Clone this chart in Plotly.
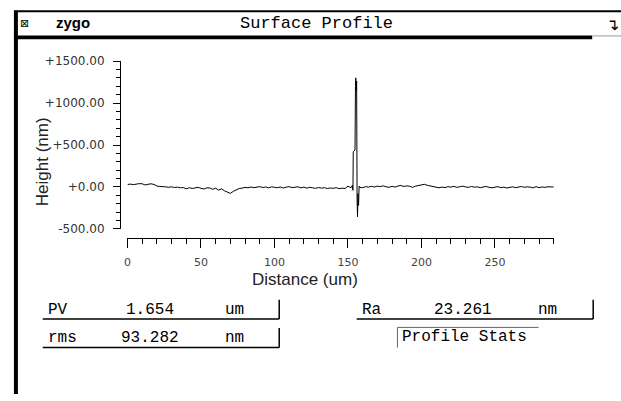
import plotly.graph_objects as go

# ---------------- data ----------------
x_before = [0, 2, 4, 6, 8, 10, 12, 14, 16, 18, 20, 22, 24, 26, 28, 30, 32, 34, 36, 38, 40,
            42, 44, 46, 48, 50, 52, 54, 56, 58, 60, 62, 64, 66, 68, 70, 72, 74, 76, 78, 80,
            82, 84, 86, 88, 90, 92, 94, 96, 98, 100, 102, 104, 106, 108, 110, 112, 114, 116, 118, 120,
            122, 124, 126, 128, 130, 132, 134, 136, 138, 140, 142, 144, 146, 148, 150, 152]
h_before = [30, 34, 28, 36, 40, 38, 24, 32, 38, 30, 12, 6, 8, 2, -4, 2, -6, -2, -10, -6, -22,
            -8, -18, -10, -4, -16, -24, -10, -12, -28, -14, -38, -22, -46, -58, -76, -52, -30, -18, -14, -4,
            -10, 0, -8, -2, 4, -6, 0, -10, 2, -4, -8, 0, -12, -2, 4, -8, -2, 2, -10, -2,
            -14, -4, -10, -16, -6, -14, -8, -18, -12, -16, -8, -20, -14, -18, 10, -10]

x_spike = [153.0, 153.4, 153.6, 154.2, 154.8, 155.1, 155.3, 155.6, 155.9, 156.2, 156.5, 156.8, 157.2, 157.6, 158.0]
h_spike = [20, -40, 420, 430, 440, 1200, 1300, 1150, 1260, -150, -354, -80, -220, 10, -5]

x_after = [160, 162, 164, 166, 168, 170, 172, 174, 176, 178, 180, 182, 184, 186, 188, 190,
           192, 194, 196, 198, 200, 202, 204, 206, 208, 210, 212, 214, 216, 218, 220, 222,
           224, 226, 228, 230, 232, 234, 236, 238, 240, 242, 244, 246, 248, 250, 252, 254,
           256, 258, 260, 262, 264, 266, 268, 270, 272, 274, 276, 278, 280, 282, 284, 286, 288, 290]
h_after = [-8, 4, -2, 8, 0, 10, 4, 14, 2, -4, 8, -2, 12, 18, 6, 14,
           8, -4, 10, 18, 24, 32, 20, 14, 4, -6, -10, 0, -8, 4, -2, 8,
           -4, 2, 10, 0, -4, 6, -2, 2, -8, 0, 6, -4, -10, -2, 4, -8,
           -2, -12, -4, 2, -8, 0, 6, -4, 2, -2, -10, 4, -8, 0, -4, 2, -2, 0]

x_ticks = [0, 50, 100, 150, 200, 250]
y_ticks = [-500, 0, 500, 1000, 1500]
y_ticktext = ["-500.00", "+0.00", "+500.00", "+1000.00", "+1500.00"]

stats_left = [("PV", "1.654", "um"), ("rms", "93.282", "nm")]
stats_right = [("Ra", "23.261", "nm")]
panel_title = "Surface Profile"
stats_caption = "Profile Stats"

x_um = x_before + x_spike + x_after
h_nm = h_before + h_spike + h_after

W, H = 621, 401


def px(x):
    return x / W


def py(y):
    return 1 - y / H


fig = go.Figure()
fig.add_trace(go.Scatter(x=x_um, y=h_nm, mode="lines",
                         line=dict(color="black", width=1), hoverinfo="skip"))

tickfont = dict(family="DejaVu Sans", size=11, color="#444444")

fig.update_layout(
    width=W, height=H,
    margin=dict(l=0, r=0, t=0, b=0),
    paper_bgcolor="white", plot_bgcolor="white",
    showlegend=False,
    xaxis=dict(domain=[px(124.3), px(553.3)], range=[0, 290], anchor="free", position=py(239.5),
               showline=True, linecolor="black", linewidth=1, showgrid=False, zeroline=False,
               ticks="outside", ticklen=9, tickwidth=1, tickcolor="black",
               tickvals=x_ticks, ticktext=[str(v) for v in x_ticks], tickfont=tickfont,
               ticklabelstandoff=5,
               minor=dict(ticks="outside", ticklen=5, tickwidth=1, tickcolor="black", dtick=10,
                          tick0=0, showgrid=False)),
    yaxis=dict(domain=[py(230), py(56)], range=[-500, 1500], anchor="free", position=px(116.7),
               showline=True, linecolor="black", linewidth=1, showgrid=False, zeroline=False,
               ticks="outside", ticklen=7, tickwidth=1, tickcolor="black",
               tickvals=y_ticks, ticktext=y_ticktext,
               tickfont=dict(family="DejaVu Sans", size=12, color="#333333"),
               ticklabelstandoff=6,
               minor=dict(ticks="outside", ticklen=4, tickwidth=1, tickcolor="black", dtick=100,
                          tick0=0, showgrid=False)),
)

shapes = []
# window frame
shapes.append(dict(type="line", xref="paper", yref="paper", x0=px(10), x1=px(621), y0=py(4.5), y1=py(4.5),
                   line=dict(color="black", width=2)))
shapes.append(dict(type="rect", xref="paper", yref="paper", x0=px(10), x1=px(14), y0=py(401), y1=py(4),
                   fillcolor="black", line=dict(width=0)))
shapes.append(dict(type="rect", xref="paper", yref="paper", x0=px(10), x1=px(592), y0=py(33.5), y1=py(29.5),
                   fillcolor="black", line=dict(width=0)))
shapes.append(dict(type="line", xref="paper", yref="paper", x0=px(592), x1=px(621), y0=py(30), y1=py(30),
                   line=dict(color="#999999", width=1)))

mono = "Liberation Mono"
annotations = []


def txt(x, y, s, size=16, anchor="left", family=mono, color="black", bold=False, angle=0):
    annotations.append(dict(x=px(x), y=py(y), xref="paper", yref="paper", text=("<b>%s</b>" % s) if bold else s,
                            showarrow=False, xanchor=anchor, yanchor="middle", textangle=angle,
                            font=dict(family=family, size=size, color=color)))


# title bar
txt(20.5, 17.5, "⊠", size=11, anchor="center", family="DejaVu Sans")
txt(50, 16, "zygo", size=15, family="Liberation Sans", bold=True)
txt(315, 17.5, panel_title, size=17, anchor="center")
txt(612, 18, "↴", size=16, anchor="center", family="DejaVu Sans")

# axis titles
txt(302.7, 282.7, "Distance (um)", size=17, anchor="center", family="Liberation Sans", color="#222222")
txt(39, 160, "Height (nm)", size=17, anchor="center", family="Liberation Sans", color="#222222", angle=-90)

# stats boxes
row_y = [314, 343]
line_y = [323.3, 352.7]
for (lab, val, unit), ty, ly in zip(stats_left, row_y, line_y):
    txt(42, ty, lab)
    txt(147, ty, val, anchor="center")
    txt(220, ty, unit)
    shapes.append(dict(type="line", xref="paper", yref="paper", x0=px(39), x1=px(277), y0=py(ly), y1=py(ly),
                       line=dict(color="black", width=1.5)))
    shapes.append(dict(type="line", xref="paper", yref="paper", x0=px(277), x1=px(277), y0=py(ly - 20), y1=py(ly),
                       line=dict(color="black", width=1.5)))

for (lab, val, unit) in stats_right:
    txt(358, row_y[0], lab)
    txt(462, row_y[0], val, anchor="center")
    txt(535, row_y[0], unit)
    shapes.append(dict(type="line", xref="paper", yref="paper", x0=px(355), x1=px(593), y0=py(line_y[0]),
                       y1=py(line_y[0]), line=dict(color="black", width=1.5)))
    shapes.append(dict(type="line", xref="paper", yref="paper", x0=px(593), x1=px(593), y0=py(line_y[0] - 20),
                       y1=py(line_y[0]), line=dict(color="black", width=1.5)))

txt(399, 342, stats_caption)
shapes.append(dict(type="line", xref="paper", yref="paper", x0=px(396), x1=px(538), y0=py(332), y1=py(332),
                   line=dict(color="#666666", width=1)))
shapes.append(dict(type="line", xref="paper", yref="paper", x0=px(396), x1=px(396), y0=py(353), y1=py(332),
                   line=dict(color="#666666", width=1)))

fig.update_layout(shapes=shapes, annotations=annotations)
fig.write_html("out.html")
